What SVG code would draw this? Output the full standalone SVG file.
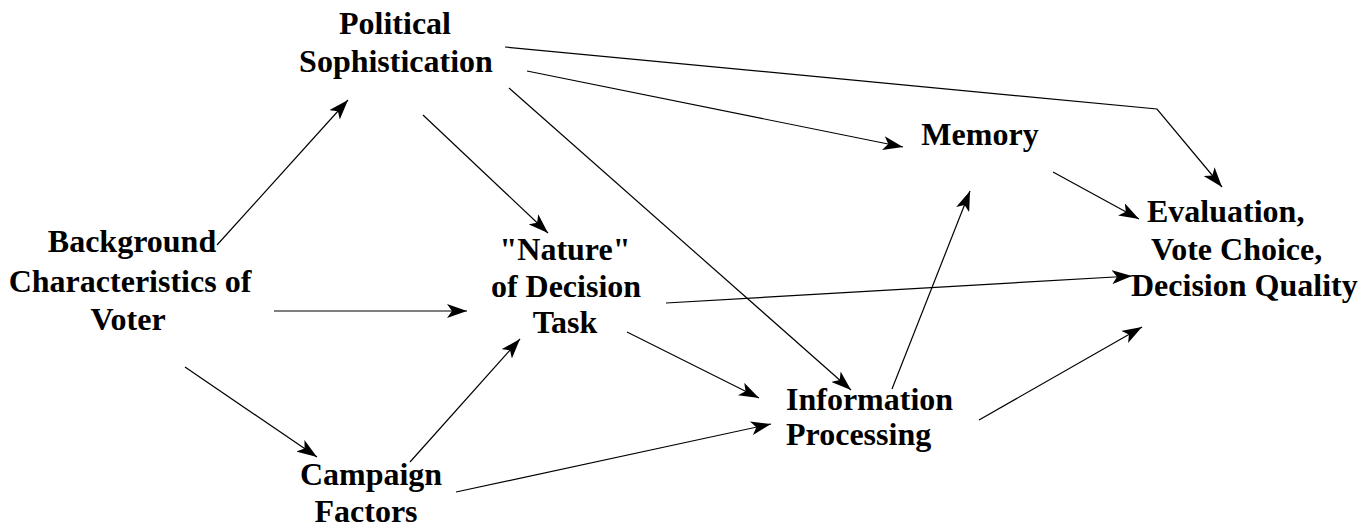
<svg xmlns="http://www.w3.org/2000/svg" width="1372" height="529" viewBox="0 0 1372 529">
<defs>
<style>
text{font-family:"Liberation Serif","Times New Roman",serif;font-weight:bold;font-size:32px;fill:#000}
.c{text-anchor:middle}
.e line,.e polyline{stroke:#000;stroke-width:1.2;fill:none;marker-end:url(#ah)}
</style>
<marker id="ah" viewBox="0 0 20 14" refX="20" refY="7" markerWidth="20" markerHeight="14" markerUnits="userSpaceOnUse" orient="auto">
<path d="M0,0 L20,7 L0,14 L5,7 Z" fill="#000"/>
</marker>
</defs>
<rect width="1372" height="529" fill="#fff"/>
<g id="political"><text class="c" x="395" y="34">Political</text><text class="c" x="396" y="72">Sophistication</text></g>
<g id="background"><text class="c" x="132" y="252">Background</text><text class="c" x="130" y="292">Characteristics of</text><text class="c" x="128" y="330">Voter</text></g>
<g id="nature"><text class="c" x="565" y="260">"Nature"</text><text class="c" x="566" y="297">of Decision</text><text class="c" x="565" y="333">Task</text></g>
<g id="campaign"><text class="c" x="371" y="485">Campaign</text><text class="c" x="366" y="522">Factors</text></g>
<g id="information"><text x="786" y="410">Information</text><text x="786" y="445">Processing</text></g>
<g id="memory"><text class="c" x="980" y="145">Memory</text></g>
<g id="evaluation"><text x="1147" y="222">Evaluation,</text><text x="1151" y="260">Vote Choice,</text><text x="1131" y="296">Decision Quality</text></g>
<g id="connectors" class="e">
<line x1="217" y1="245" x2="348" y2="100"/>
<line x1="274" y1="311" x2="467" y2="311"/>
<line x1="185" y1="367" x2="317" y2="457"/>
<line x1="410" y1="462" x2="520" y2="339"/>
<line x1="456" y1="492" x2="771" y2="424"/>
<line x1="666" y1="303" x2="1132" y2="276"/>
<line x1="627" y1="332" x2="759" y2="398"/>
<line x1="423" y1="115" x2="548" y2="233"/>
<line x1="509" y1="88" x2="851" y2="390"/>
<line x1="527" y1="71" x2="903" y2="147"/>
<polyline points="505,47 1157,109 1222,187"/>
<line x1="892" y1="389" x2="970" y2="191"/>
<line x1="979" y1="420" x2="1142" y2="327"/>
<line x1="1053" y1="172" x2="1139" y2="219"/>
</g>
</svg>
